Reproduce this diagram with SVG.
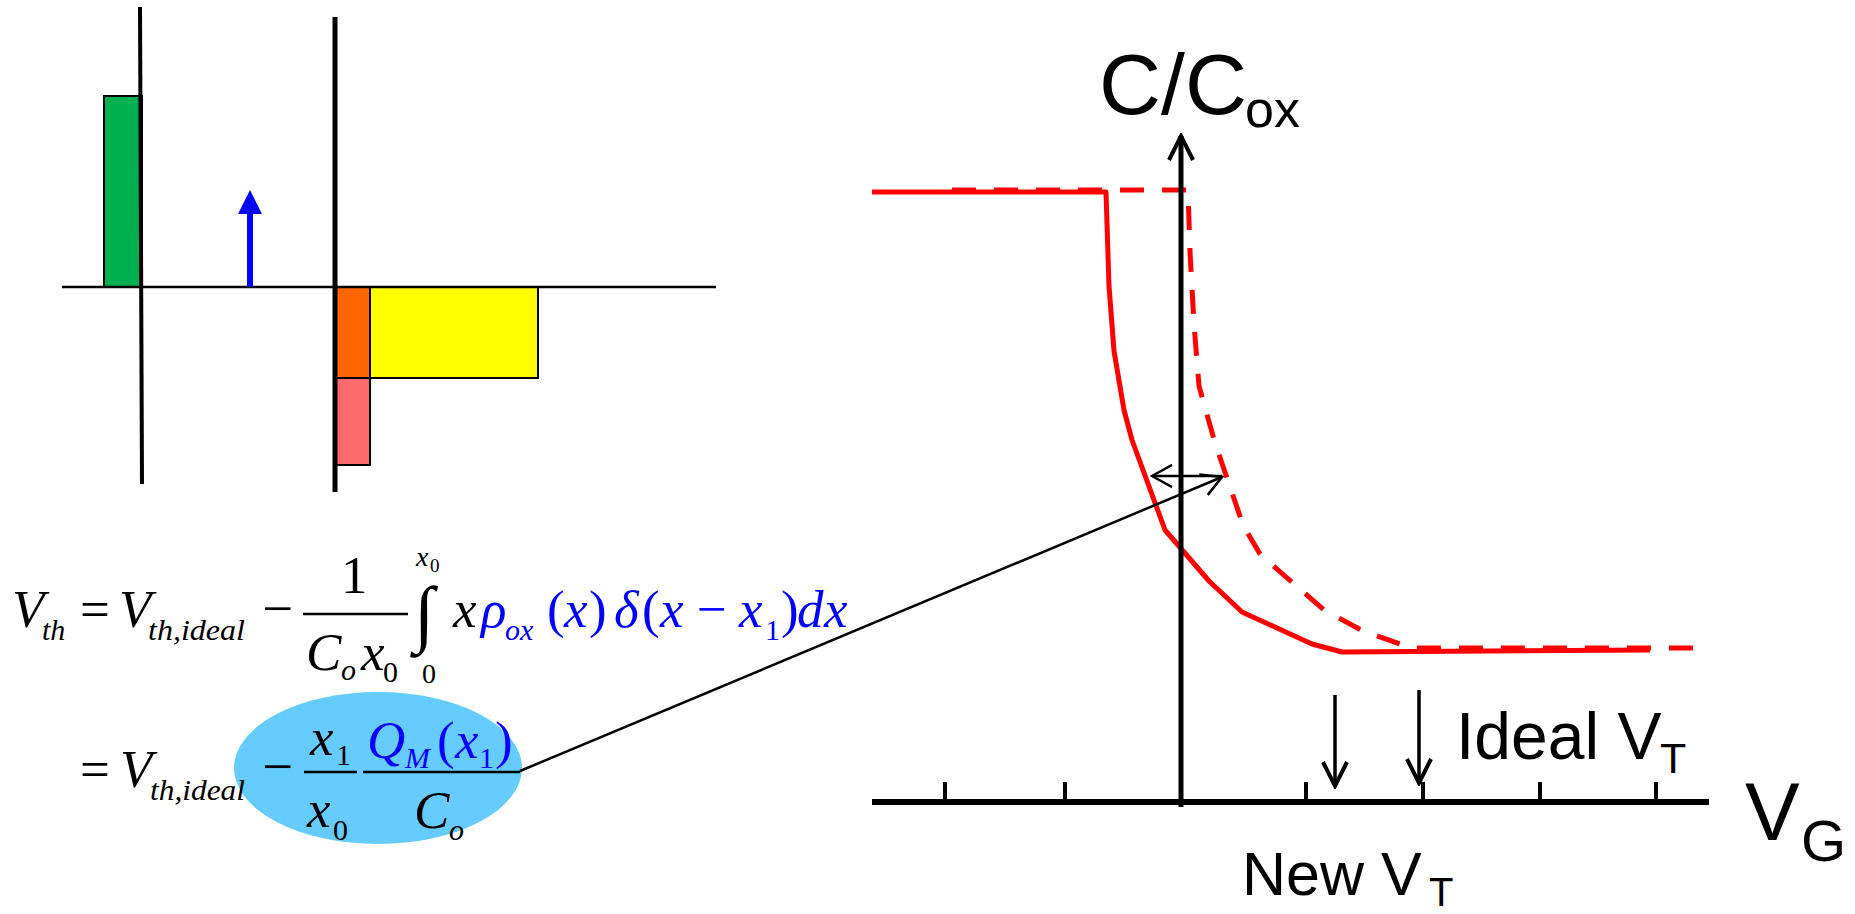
<svg xmlns="http://www.w3.org/2000/svg" width="1855" height="914" viewBox="0 0 1855 914">
<style>
.ax{stroke:#000;fill:none}
.red{stroke:#FF0000;stroke-width:5;fill:none;stroke-linejoin:round}
.dash{stroke-dasharray:24 18}
.m{font-family:"Liberation Serif","Times New Roman",serif;font-size:53px;fill:#000}
.s{font-size:30px}
.i{font-style:italic}
.blue{fill:#0000FF}
.lbl{font-family:"Liberation Sans",Arial,sans-serif;fill:#000}
.bar{stroke:#000;stroke-width:2.5}
.thin{stroke:#000;stroke-width:2.5;fill:none}
</style>
<defs>
<marker id="openArrow" markerUnits="userSpaceOnUse" viewBox="0 0 24 24" markerWidth="24" markerHeight="24" refX="22" refY="12" orient="auto-start-reverse">
<path d="M2,1 L22,12 L2,23" fill="none" stroke="#000" stroke-width="2.5"/>
</marker>
<marker id="axisArrow" markerUnits="userSpaceOnUse" viewBox="0 0 30 30" markerWidth="30" markerHeight="30" refX="27" refY="15" orient="auto">
<path d="M3,3 L27,15 L3,27" fill="none" stroke="#000" stroke-width="4"/>
</marker>
</defs>
<rect width="1855" height="914" fill="#fff"/>

<g id="charge-diagram">
<rect id="green-charge" x="104" y="96" width="38" height="191" fill="#00B050" stroke="#000" stroke-width="2"/>
<rect id="orange-charge" x="335" y="287" width="35" height="91" fill="#FF6600" stroke="#000" stroke-width="2"/>
<rect id="yellow-charge" x="370" y="287" width="168" height="91" fill="#FFFF00" stroke="#000" stroke-width="2"/>
<rect id="pink-charge" x="335" y="378" width="35" height="87" fill="#FF6B6B" stroke="#000" stroke-width="2"/>
<line x1="62" y1="287" x2="716" y2="287" class="ax" stroke-width="2.5"/>
<line x1="140" y1="7" x2="142" y2="484" class="ax" stroke-width="4"/>
<line x1="335" y1="17" x2="335" y2="492" class="ax" stroke-width="5"/>
<g id="blue-arrow">
<line x1="250" y1="287" x2="250" y2="210" stroke="#0000FF" stroke-width="6"/>
<polygon points="250,190 238,214 262,214" fill="#0000FF"/>
</g>
</g>

<g id="equation">
<text class="m i" x="12" y="627">V</text>
<text class="m i s" x="42" y="640">th</text>
<text class="m" x="80" y="627">=</text>
<text class="m i" x="119" y="627">V</text>
<text class="m i s" x="148" y="640" textLength="97" lengthAdjust="spacingAndGlyphs">th,ideal</text>
<text class="m" x="262" y="627" style="font-size:55px">−</text>
<line class="bar" x1="303" y1="614" x2="408" y2="614"/>
<text class="m" x="341" y="593">1</text>
<text class="m i" x="306" y="670">C</text>
<text class="m i s" x="341" y="680">o</text>
<text class="m i" x="361" y="670">x</text>
<text class="m s" x="383" y="682">0</text>
<text class="m" x="414" y="638" style="font-size:74px">∫</text>
<text class="m i" x="416" y="566" style="font-size:28px">x</text>
<text class="m" x="430" y="572" style="font-size:19px">0</text>
<text class="m" x="422" y="683" style="font-size:28px">0</text>
<text class="m i" x="453" y="627">x</text>
<text class="m blue"><tspan x="481" y="627" class="i">ρ</tspan><tspan x="505" y="640" class="i s">ox</tspan><tspan x="547" y="627">(</tspan><tspan x="564" class="i">x</tspan><tspan x="589">)</tspan><tspan x="614" class="i">δ</tspan><tspan x="642">(</tspan><tspan x="660" class="i">x</tspan><tspan x="697">−</tspan><tspan x="739" class="i">x</tspan><tspan x="765" y="640" class="s">1</tspan><tspan x="781" y="627">)</tspan><tspan x="797" class="i">d</tspan><tspan x="824" class="i">x</tspan></text>

<ellipse id="highlight" cx="378" cy="768" rx="144" ry="76" fill="#66CCFF"/>
<text class="m" x="80" y="787">=</text>
<text class="m i" x="120" y="787">V</text>
<text class="m i s" x="150" y="800" textLength="95" lengthAdjust="spacingAndGlyphs">th,ideal</text>
<text class="m" x="262" y="785" style="font-size:55px">−</text>
<line class="bar" x1="304" y1="772" x2="357" y2="772"/>
<text class="m i" x="310" y="755">x</text>
<text class="m s" x="336" y="765">1</text>
<text class="m i" x="307" y="827">x</text>
<text class="m s" x="333" y="840">0</text>
<line class="bar" x1="363" y1="772" x2="520" y2="772"/>
<text class="m blue"><tspan x="367" y="758" class="i">Q</tspan><tspan x="405" y="768" class="i s">M</tspan><tspan x="437" y="758">(</tspan><tspan x="455" class="i">x</tspan><tspan x="479" y="768" class="s">1</tspan><tspan x="495" y="758">)</tspan></text>
<text class="m i" x="414" y="828">C</text>
<text class="m i s" x="449" y="840">o</text>
</g>

<g id="cv-curves">
<polyline id="ideal-cv" class="red dash" points="952,190 1188,190 1190,252 1194,324 1199,386 1215,443 1228,481 1243,525 1260,554 1286,577 1324,610 1363,631 1411,648 1709,648"/>
<polyline id="new-cv" class="red" points="872,192 1106,192 1109,286 1114,351 1124,410 1132,440 1165,530 1209,581 1242,612 1312,644 1342,652 1650,650"/>
</g>

<g id="axes">
<line x1="1181" y1="807" x2="1181" y2="136" class="ax" stroke-width="5" marker-end="url(#axisArrow)"/>
<line x1="872" y1="802" x2="1709" y2="802" class="ax" stroke-width="6"/>
<g id="ticks" class="ax" stroke-width="4">
<line x1="945" y1="782" x2="945" y2="802"/>
<line x1="1065" y1="782" x2="1065" y2="802"/>
<line x1="1181" y1="782" x2="1181" y2="802"/>
<line x1="1306" y1="782" x2="1306" y2="802"/>
<line x1="1423" y1="782" x2="1423" y2="802"/>
<line x1="1540" y1="782" x2="1540" y2="802"/>
<line x1="1656" y1="782" x2="1656" y2="802"/>
</g>
</g>

<g id="connectors">
<line id="vt-shift" x1="1222" y1="476" x2="1152" y2="476" class="thin" marker-end="url(#openArrow)"/>
<line id="callout" x1="520" y1="771" x2="1222" y2="477" class="thin" marker-end="url(#openArrow)"/>
<line id="new-vt-arrow" x1="1335" y1="695" x2="1335" y2="786" class="ax" stroke-width="3.5" marker-end="url(#axisArrow)"/>
<line id="ideal-vt-arrow" x1="1419" y1="690" x2="1419" y2="783" class="ax" stroke-width="3.5" marker-end="url(#axisArrow)"/>
</g>

<g id="labels">
<text class="lbl" x="1099" y="114" style="font-size:86px">C/C</text>
<text class="lbl" x="1245" y="127" style="font-size:52px">ox</text>
<text class="lbl" x="1745" y="840" style="font-size:82px">V</text>
<text class="lbl" x="1801" y="861" style="font-size:58px">G</text>
<text class="lbl" x="1456" y="759" style="font-size:66px">Ideal V</text>
<text class="lbl" x="1660" y="773" style="font-size:43px">T</text>
<text class="lbl" x="1242" y="895" style="font-size:61px">New V</text>
<text class="lbl" x="1429" y="906" style="font-size:40px">T</text>
</g>
</svg>
